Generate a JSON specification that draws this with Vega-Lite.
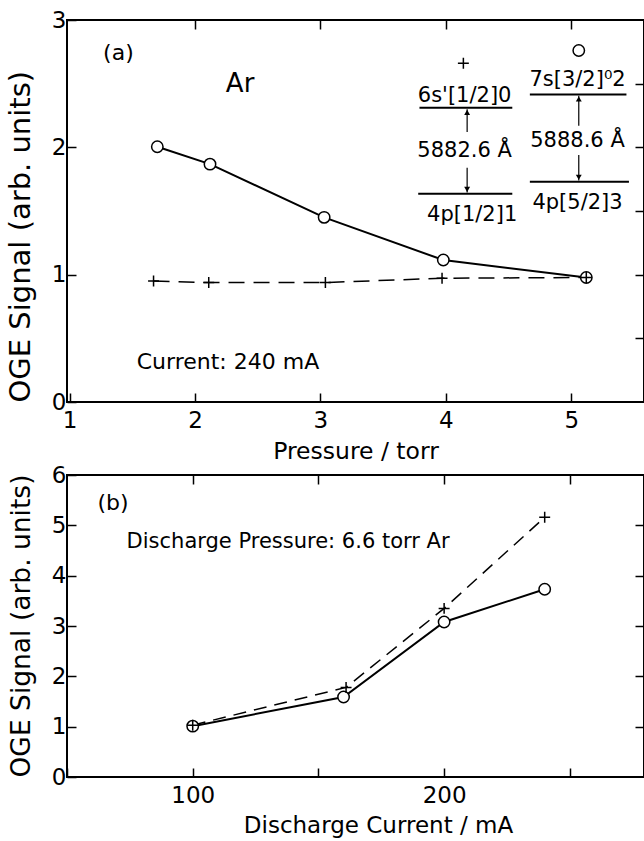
{
  "$schema": "https://vega.github.io/schema/vega-lite/v6.json",
  "padding": {"left": 5, "top": 8, "right": 0, "bottom": 0},
  "spacing": -1,
  "background": "white",
  "config": {
    "view": {"stroke": "black", "strokeWidth": 2},
    "axis": {"domain": false, "grid": false, "ticks": true, "tickSize": -9, "tickWidth": 1.5, "tickColor": "black", "labelFont": "DejaVu Sans", "labelFontSize": 23, "labelColor": "black", "labelPadding": 10, "labelFlush": false, "labelOverlap": false, "titleFont": "DejaVu Sans", "titleFontWeight": "normal", "titleColor": "black"},
    "axisX": {"labelPadding": 16},
    "text": {"font": "DejaVu Sans", "fontSize": 21, "color": "black"}
  },
  "datasets": {
    "a": [
      {"series": "circle", "pressure": 1.70, "signal": 2.005},
      {"series": "circle", "pressure": 2.12, "signal": 1.868},
      {"series": "circle", "pressure": 3.03, "signal": 1.45},
      {"series": "circle", "pressure": 3.98, "signal": 1.115},
      {"series": "circle", "pressure": 5.12, "signal": 0.978},
      {"series": "plus", "pressure": 1.67, "signal": 0.951},
      {"series": "plus", "pressure": 2.11, "signal": 0.938},
      {"series": "plus", "pressure": 3.04, "signal": 0.938},
      {"series": "plus", "pressure": 3.97, "signal": 0.972},
      {"series": "plus", "pressure": 5.12, "signal": 0.978}
    ],
    "b": [
      {"series": "circle", "current": 100, "signal": 1.01},
      {"series": "circle", "current": 160, "signal": 1.59},
      {"series": "circle", "current": 200, "signal": 3.08},
      {"series": "circle", "current": 240, "signal": 3.73},
      {"series": "plus", "current": 100, "signal": 1.03},
      {"series": "plus", "current": 161, "signal": 1.78},
      {"series": "plus", "current": 200, "signal": 3.35},
      {"series": "plus", "current": 240, "signal": 5.16}
    ],
    "a_levels": [
      {"x": 3.79, "x2": 4.53, "y": 2.31},
      {"x": 3.78, "x2": 4.53, "y": 1.636},
      {"x": 4.67, "x2": 5.44, "y": 2.415},
      {"x": 4.67, "x2": 5.46, "y": 1.73}
    ],
    "a_shafts": [
      {"x": 4.17, "y": 2.30, "y2": 2.12},
      {"x": 4.17, "y": 1.84, "y2": 1.645},
      {"x": 5.06, "y": 2.405, "y2": 2.17},
      {"x": 5.06, "y": 1.94, "y2": 1.74}
    ],
    "a_heads": [
      {"x": 4.17, "y": 2.275, "dir": "up"},
      {"x": 4.17, "y": 1.67, "dir": "down"},
      {"x": 5.06, "y": 2.38, "dir": "up"},
      {"x": 5.06, "y": 1.765, "dir": "down"}
    ],
    "a_labels": [
      {"text": "6s'[1/2]0", "x": 4.15, "y": 2.40},
      {"text": "5882.6 Å", "x": 4.15, "y": 1.97},
      {"text": "4p[1/2]1", "x": 4.21, "y": 1.47},
      {"text": "7s[3/2]⁰2", "x": 5.05, "y": 2.53},
      {"text": "5888.6 Å", "x": 5.05, "y": 2.05},
      {"text": "4p[5/2]3", "x": 5.05, "y": 1.565}
    ]
  },
  "vconcat": [
    {
      "width": 577,
      "height": 382,
      "layer": [
        {
          "data": {"name": "a"},
          "transform": [{"filter": "datum.series === 'circle'"}],
          "mark": {"type": "line", "color": "black", "strokeWidth": 2},
          "encoding": {
            "x": {"field": "pressure", "type": "quantitative", "scale": {"domain": [0.98, 5.58], "nice": false, "zero": false},
                  "axis": {"values": [1, 2, 3, 4, 5], "format": "d", "title": "Pressure / torr", "titleFontSize": 23.5, "titlePadding": 7}},
            "y": {"field": "signal", "type": "quantitative", "scale": {"domain": [0, 3], "nice": false},
                  "axis": {"values": [0, 0.5, 1, 1.5, 2, 2.5, 3], "format": "d", "labelExpr": "datum.value % 1 === 0 ? datum.label : ''", "title": "OGE Signal (arb. units)", "titleFontSize": 29, "titleAnchor": "start", "minExtent": 24, "maxExtent": 24, "titlePadding": 8}}
          }
        },
        {
          "data": {"name": "a"},
          "transform": [{"filter": "datum.series === 'plus'"}],
          "mark": {"type": "line", "color": "black", "strokeWidth": 1.5, "strokeDash": [16, 9]},
          "encoding": {
            "x": {"field": "pressure", "type": "quantitative", "scale": {"domain": [0.98, 5.58], "nice": false, "zero": false},
                  "axis": {"orient": "top", "values": [2, 3, 4, 5], "labels": false, "title": null}},
            "y": {"field": "signal", "type": "quantitative", "scale": {"domain": [0, 3], "nice": false},
                  "axis": {"orient": "right", "values": [0.5, 1, 1.5, 2, 2.5], "labels": false, "title": null}}
          }
        },
        {
          "data": {"name": "a"},
          "transform": [{"filter": "datum.series === 'circle'"}],
          "mark": {"type": "point", "shape": "circle", "size": 130, "filled": true, "fill": "white", "stroke": "black", "strokeWidth": 1.5, "opacity": 1},
          "encoding": {
            "x": {"field": "pressure", "type": "quantitative", "axis": null},
            "y": {"field": "signal", "type": "quantitative", "axis": null}
          }
        },
        {
          "data": {"name": "a"},
          "transform": [{"filter": "datum.series === 'plus'"}],
          "mark": {"type": "point", "shape": "M-1,0L1,0M0,-1L0,1", "size": 120, "filled": false, "color": "black", "strokeWidth": 1.5, "opacity": 1},
          "encoding": {
            "x": {"field": "pressure", "type": "quantitative", "axis": null},
            "y": {"field": "signal", "type": "quantitative", "axis": null}
          }
        },
        {
          "data": {"name": "a_levels"},
          "mark": {"type": "rule", "color": "black", "strokeWidth": 2},
          "encoding": {
            "x": {"field": "x", "type": "quantitative", "axis": null},
            "x2": {"field": "x2"},
            "y": {"field": "y", "type": "quantitative", "axis": null}
          }
        },
        {
          "data": {"name": "a_shafts"},
          "mark": {"type": "rule", "color": "black", "strokeWidth": 1.2},
          "encoding": {
            "x": {"field": "x", "type": "quantitative", "axis": null},
            "y": {"field": "y", "type": "quantitative", "axis": null},
            "y2": {"field": "y2"}
          }
        },
        {
          "data": {"name": "a_heads"},
          "mark": {"type": "point", "filled": true, "color": "black", "size": 35, "opacity": 1},
          "encoding": {
            "x": {"field": "x", "type": "quantitative", "axis": null},
            "y": {"field": "y", "type": "quantitative", "axis": null},
            "shape": {"field": "dir", "type": "nominal", "scale": {"domain": ["up", "down"], "range": ["triangle-up", "triangle-down"]}, "legend": null}
          }
        },
        {
          "data": {"values": [{"x": 4.14, "y": 2.66}]},
          "mark": {"type": "point", "shape": "M-1,0L1,0M0,-1L0,1", "size": 120, "filled": false, "color": "black", "strokeWidth": 1.5, "opacity": 1},
          "encoding": {
            "x": {"field": "x", "type": "quantitative", "axis": null},
            "y": {"field": "y", "type": "quantitative", "axis": null}
          }
        },
        {
          "data": {"values": [{"x": 5.06, "y": 2.76}]},
          "mark": {"type": "point", "shape": "circle", "size": 130, "filled": true, "fill": "white", "stroke": "black", "strokeWidth": 1.5, "opacity": 1},
          "encoding": {
            "x": {"field": "x", "type": "quantitative", "axis": null},
            "y": {"field": "y", "type": "quantitative", "axis": null}
          }
        },
        {
          "data": {"name": "a_labels"},
          "mark": {"type": "text", "align": "center", "baseline": "middle", "fontSize": 21},
          "encoding": {
            "x": {"field": "x", "type": "quantitative", "axis": null},
            "y": {"field": "y", "type": "quantitative", "axis": null},
            "text": {"field": "text"}
          }
        },
        {
          "data": {"values": [{"text": "(a)", "x": 1.39, "y": 2.74}]},
          "mark": {"type": "text", "align": "center", "baseline": "middle", "fontSize": 22},
          "encoding": {
            "x": {"field": "x", "type": "quantitative", "axis": null},
            "y": {"field": "y", "type": "quantitative", "axis": null},
            "text": {"field": "text"}
          }
        },
        {
          "data": {"values": [{"text": "Ar", "x": 2.36, "y": 2.50}]},
          "mark": {"type": "text", "align": "center", "baseline": "middle", "fontSize": 26},
          "encoding": {
            "x": {"field": "x", "type": "quantitative", "axis": null},
            "y": {"field": "y", "type": "quantitative", "axis": null},
            "text": {"field": "text"}
          }
        },
        {
          "data": {"values": [{"text": "Current: 240 mA", "x": 1.536, "y": 0.316}]},
          "mark": {"type": "text", "align": "left", "baseline": "middle", "fontSize": 22},
          "encoding": {
            "x": {"field": "x", "type": "quantitative", "axis": null},
            "y": {"field": "y", "type": "quantitative", "axis": null},
            "text": {"field": "text"}
          }
        }
      ],
      "resolve": {"axis": {"x": "independent", "y": "independent"}}
    },
    {
      "width": 577,
      "height": 302,
      "layer": [
        {
          "data": {"name": "b"},
          "transform": [{"filter": "datum.series === 'circle'"}],
          "mark": {"type": "line", "color": "black", "strokeWidth": 2},
          "encoding": {
            "x": {"field": "current", "type": "quantitative", "scale": {"domain": [50, 279.5], "nice": false, "zero": false},
                  "axis": {"values": [50, 100, 150, 200, 250], "labelExpr": "datum.value === 100 || datum.value === 200 ? datum.label : ''", "title": "Discharge Current / mA", "titleFontSize": 23, "titlePadding": 7, "titleX": 311}},
            "y": {"field": "signal", "type": "quantitative", "scale": {"domain": [0, 6], "nice": false},
                  "axis": {"values": [0, 1, 2, 3, 4, 5, 6], "title": "OGE Signal (arb. units)", "titleFontSize": 26.5, "titleAnchor": "start", "minExtent": 24, "maxExtent": 24, "titlePadding": 8}}
          }
        },
        {
          "data": {"name": "b"},
          "transform": [{"filter": "datum.series === 'plus'"}],
          "mark": {"type": "line", "color": "black", "strokeWidth": 1.5, "strokeDash": [13, 8]},
          "encoding": {
            "x": {"field": "current", "type": "quantitative", "scale": {"domain": [50, 279.5], "nice": false, "zero": false},
                  "axis": {"orient": "top", "values": [100, 150, 200, 250], "labels": false, "title": null}},
            "y": {"field": "signal", "type": "quantitative", "scale": {"domain": [0, 6], "nice": false},
                  "axis": {"orient": "right", "values": [1, 2, 3, 4, 5], "labels": false, "title": null}}
          }
        },
        {
          "data": {"name": "b"},
          "transform": [{"filter": "datum.series === 'circle'"}],
          "mark": {"type": "point", "shape": "circle", "size": 130, "filled": true, "fill": "white", "stroke": "black", "strokeWidth": 1.5, "opacity": 1},
          "encoding": {
            "x": {"field": "current", "type": "quantitative", "axis": null},
            "y": {"field": "signal", "type": "quantitative", "axis": null}
          }
        },
        {
          "data": {"name": "b"},
          "transform": [{"filter": "datum.series === 'plus'"}],
          "mark": {"type": "point", "shape": "M-1,0L1,0M0,-1L0,1", "size": 120, "filled": false, "color": "black", "strokeWidth": 1.5, "opacity": 1},
          "encoding": {
            "x": {"field": "current", "type": "quantitative", "axis": null},
            "y": {"field": "signal", "type": "quantitative", "axis": null}
          }
        },
        {
          "data": {"values": [{"text": "(b)", "x": 68.3, "y": 5.45}]},
          "mark": {"type": "text", "align": "center", "baseline": "middle", "fontSize": 22},
          "encoding": {
            "x": {"field": "x", "type": "quantitative", "axis": null},
            "y": {"field": "y", "type": "quantitative", "axis": null},
            "text": {"field": "text"}
          }
        },
        {
          "data": {"values": [{"text": "Discharge Pressure: 6.6 torr Ar", "x": 73.7, "y": 4.66}]},
          "mark": {"type": "text", "align": "left", "baseline": "middle", "fontSize": 21},
          "encoding": {
            "x": {"field": "x", "type": "quantitative", "axis": null},
            "y": {"field": "y", "type": "quantitative", "axis": null},
            "text": {"field": "text"}
          }
        }
      ],
      "resolve": {"axis": {"x": "independent", "y": "independent"}}
    }
  ]
}
